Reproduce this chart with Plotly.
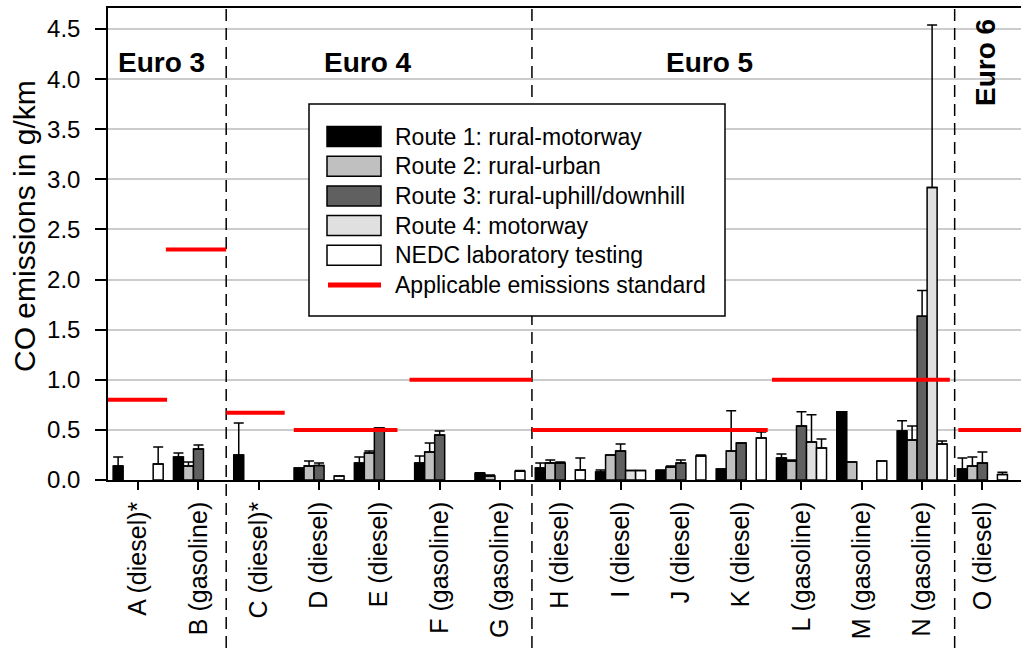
import plotly.graph_objects as go

# ---------------- data ----------------
categories = ["A (diesel)*", "B (gasoline)", "C (diesel)*", "D (diesel)",
              "E (diesel)", "F (gasoline)", "G (gasoline)", "H (diesel)", "I (diesel)",
              "J (diesel)", "K (diesel)", "L (gasoline)", "M (gasoline)", "N (gasoline)",
              "O (diesel)"]

route1 = [0.14, 0.23, 0.25, 0.12, 0.17, 0.17, 0.067, 0.12, 0.08, 0.094, 0.11, 0.22, 0.68, 0.49, 0.11]
route1_hi = [0.23, 0.27, 0.57, None, 0.23, 0.24, 0.072, 0.17, 0.10, 0.10, None, 0.26, None, 0.59, 0.22]

route2 = [None, 0.14, None, 0.14, 0.27, 0.28, 0.04, 0.17, 0.25, 0.13, 0.29, 0.19, 0.18, 0.40, 0.14]
route2_hi = [None, 0.18, None, 0.19, 0.29, 0.37, 0.05, 0.20, None, 0.14, 0.69, 0.20, None, 0.54, 0.23]

route3 = [None, 0.31, None, 0.145, 0.52, 0.45, None, 0.17, 0.29, 0.17, 0.37, 0.54, None, 1.635, 0.17]
route3_hi = [None, 0.35, None, 0.17, 0.52, 0.49, None, 0.18, 0.36, 0.20, None, 0.68, None, 1.89, 0.28]

route4 = [None, None, None, None, None, None, None, None, 0.094, None, None, 0.38, None, 2.92, None]
route4_hi = [None, None, None, None, None, None, None, None, None, None, None, 0.65, None, 4.54, None]

nedc = [0.16, None, None, 0.04, None, None, 0.087, 0.10, 0.094, 0.24, 0.42, 0.32, 0.19, 0.36, 0.054]
nedc_hi = [0.33, None, None, None, None, None, 0.094, 0.22, None, 0.25, 0.48, 0.41, None, 0.39, 0.077]

# applicable emission standards: (from category pos, to category pos, value)
std_from = [-0.5, 0.46, 1.46, 2.58, 4.5, 6.53, 10.51, 13.6]
std_to = [0.48, 1.46, 2.43, 4.3, 6.53, 10.44, 13.46, 14.64]
std_value = [0.8, 2.3, 0.67, 0.5, 1.0, 0.5, 1.0, 0.5]

euro_separators = [1.46, 6.53, 13.54]
euro_labels = ["Euro 3", "Euro 4", "Euro 5", "Euro 6"]

series_names = ["Route 1: rural-motorway", "Route 2: rural-urban", "Route 3: rural-uphill/downhill",
                "Route 4: motorway", "NEDC laboratory testing"]
series_colors = ["#000000", "#c0c0c0", "#606060", "#e0e0e0", "#ffffff"]
std_name = "Applicable emissions standard"

FONT = "Liberation Sans, Arial, sans-serif"
XMIN, XMAX = -0.5, 14.64
YMAX = 4.71

# plot area in pixels
PL, PR, PT, PB = 108, 1021, 8, 480


def px(x):
    return (x - PL) / (PR - PL)


def py(y):
    return (PB - y) / (PB - PT)


def xpaper(c):
    return (c - XMIN) / (XMAX - XMIN)


def plus(vals, hi):
    return [(h - v) if (v is not None and h is not None) else None for v, h in zip(vals, hi)]


fig = go.Figure()
all_vals = [route1, route2, route3, route4, nedc]
all_hi = [route1_hi, route2_hi, route3_hi, route4_hi, nedc_hi]
for name, col, vals, hi in zip(series_names, series_colors, all_vals, all_hi):
    fig.add_trace(go.Bar(
        x=categories, y=vals, name=name,
        marker=dict(color=col, line=dict(color="black", width=1.5)),
        error_y=dict(type="data", symmetric=False, array=plus(vals, hi),
                     arrayminus=[0 if v is not None else None for v in vals],
                     color="black", thickness=1.5, width=5),
        showlegend=False,
    ))

shapes = []
# dashed separators (extend below the axis through the labels)
for s in euro_separators:
    shapes.append(dict(type="line", xref="paper", yref="paper",
                       x0=xpaper(s), x1=xpaper(s), y0=-(648 - PB) / (PB - PT), y1=1,
                       line=dict(color="black", width=1.5, dash="12px,7px"), layer="above"))
# standards
for a, b, v in zip(std_from, std_to, std_value):
    shapes.append(dict(type="line", xref="x", yref="y", x0=a, x1=b, y0=v, y1=v,
                       line=dict(color="#ff0000", width=4), layer="above"))

# custom legend box
shapes.append(dict(type="rect", xref="paper", yref="paper",
                   x0=px(309), x1=px(725), y0=py(316), y1=py(104),
                   fillcolor="white", line=dict(color="black", width=1.5), layer="above"))
annotations = []
ly0, lstep = 136.5, 29.7
for i, (name, col) in enumerate(zip(series_names, series_colors)):
    yc = ly0 + i * lstep
    shapes.append(dict(type="rect", xref="paper", yref="paper",
                       x0=px(327), x1=px(381), y0=py(yc + 10), y1=py(yc - 10),
                       fillcolor=col, line=dict(color="black", width=1.5), layer="above"))
    annotations.append(dict(text=name, xref="paper", yref="paper", x=px(393), y=py(yc),
                            xanchor="left", yanchor="middle", showarrow=False,
                            font=dict(family=FONT, size=23, color="black")))
yc = ly0 + 5 * lstep
shapes.append(dict(type="line", xref="paper", yref="paper", x0=px(328), x1=px(381),
                   y0=py(yc), y1=py(yc), line=dict(color="#ff0000", width=5), layer="above"))
annotations.append(dict(text=std_name, xref="paper", yref="paper", x=px(393), y=py(yc),
                        xanchor="left", yanchor="middle", showarrow=False,
                        font=dict(family=FONT, size=23, color="black")))

# Euro labels
euro_pos = [(161.5, 62, 0), (368, 62, 0), (709, 62, 0), (985, 63, -90)]
for lab, (x, y, ang) in zip(euro_labels, euro_pos):
    annotations.append(dict(text="<b>%s</b>" % lab, xref="paper", yref="paper", x=px(x), y=py(y),
                            xanchor="center", yanchor="middle", showarrow=False, textangle=ang,
                            font=dict(family=FONT, size=28, color="black")))

# y-axis title
annotations.append(dict(text="CO emissions in g/km", xref="paper", yref="paper",
                        x=px(24), y=py(226), xanchor="center", yanchor="middle",
                        showarrow=False, textangle=-90,
                        font=dict(family=FONT, size=30, color="black")))

fig.update_layout(
    width=1021, height=648,
    margin=dict(l=PL, r=1021 - PR, t=PT, b=648 - PB),
    paper_bgcolor="white", plot_bgcolor="white",
    barmode="group", bargap=0.17, bargroupgap=0,
    font=dict(family=FONT, size=23, color="black"),
    shapes=shapes, annotations=annotations,
    showlegend=False,
)
fig.update_xaxes(range=[XMIN, XMAX], showline=True, linecolor="black", linewidth=1.5,
                 mirror=True, ticks="outside", ticklen=8, tickwidth=1.5, tickcolor="black",
                 tickangle=-90, showgrid=False, tickfont=dict(family=FONT, size=25),
                 ticklabelstandoff=2)
fig.update_yaxes(range=[0, YMAX], dtick=0.5, tick0=0, tickformat=".1f", showline=True,
                 linecolor="black", linewidth=1.5, ticks="outside", ticklen=11, tickwidth=1.5,
                 tickcolor="black", showgrid=True, gridcolor="#cccccc", gridwidth=1.5,
                 zeroline=False, tickfont=dict(family=FONT, size=24), ticklabelstandoff=10)

fig.write_html("out.html")
